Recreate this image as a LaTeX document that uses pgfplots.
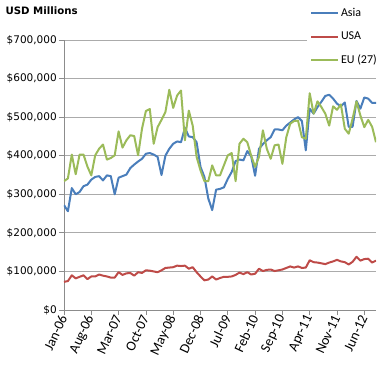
\documentclass[border=0pt]{standalone}
\usepackage{pgfplots}
\pgfplotsset{compat=1.18}
\usepackage{pgfplotstable}
\usepackage{fontspec}
\setmainfont{Carlito}
\newfontfamily\dejavu{DejaVu Sans}
\definecolor{asia}{HTML}{4A7EBB}
\definecolor{usa}{HTML}{BE4B48}
\definecolor{eu}{HTML}{9BBB59}
\definecolor{gridgray}{HTML}{ABABAB}
\definecolor{axisgray}{HTML}{8C8C8C}
\pgfplotstableread{
i asia usa eu
0 272 73 334
1 256 75 341
2 316 90 403
3 300 82 352
4 306 86 403
5 321 90 403
6 325 80 372
7 338 87 349
8 345 87 401
9 347 92 418
10 336 89 429
11 349 87 390
12 347 84 394
13 300 84 401
14 343 98 463
15 347 91 421
16 351 95 440
17 368 96 453
18 377 89 451
19 385 98 401
20 392 96 470
21 405 103 516
22 407 102 521
23 403 100 431
24 397 98 474
25 350 103 493
26 400 109 513
27 418 110 571
28 431 111 524
29 437 115 556
30 435 114 569
31 472 115 440
32 450 107 517
33 448 111 478
34 435 98 397
35 371 87 362
36 345 77 334
37 289 79 334
38 259 87 375
39 312 79 349
40 314 83 349
41 318 86 375
42 340 86 401
43 358 87 407
44 386 91 334
45 390 97 431
46 388 93 444
47 412 98 435
48 398 92 400
49 348 94 371
50 418 107 397
51 430 101 466
52 440 104 418
53 448 105 392
54 468 101 427
55 468 103 429
56 466 105 379
57 478 109 448
58 486 113 483
59 494 110 490
60 500 113 491
61 490 109 448
62 414 110 444
63 522 129 562
64 509 124 509
65 526 123 541
66 540 121 526
67 555 119 509
68 558 123 478
69 548 126 528
70 535 130 519
71 528 126 533
72 538 124 470
73 475 118 457
74 475 125 496
75 542 138 541
76 522 128 504
77 551 132 474
78 548 133 493
79 537 123 475
80 537 128 435
}\data
\begin{document}
\begin{tikzpicture}
\begin{axis}[
  width=312pt, height=270pt, scale only axis,
  xmin=0, xmax=80, ymin=0, ymax=700,
  axis lines*=left,
  axis line style={draw=axisgray, line width=0.8pt},
  xtick={0,7,...,77},
  xticklabels={Jan-06,Aug-06,Mar-07,Oct-07,May-08,Dec-08,Jul-09,Feb-10,Sep-10,Apr-11,Nov-11,Jun-12},
  ytick={0,100,...,700},
  yticklabels={{\$0},{\$100,000},{\$200,000},{\$300,000},{\$400,000},{\$500,000},{\$600,000},{\$700,000}},
  tick align=outside, major tick length=5pt,
  tick style={draw=axisgray, line width=0.8pt},
  ymajorgrids, grid style={draw=gridgray, line width=0.8pt},
  xticklabel style={font=\fontsize{14}{16}\selectfont, rotate=65, anchor=east, inner sep=1pt},
  yticklabel style={font=\dejavu\fontsize{10.5}{12}\selectfont, inner sep=2pt},
  legend style={at={(1.019,1.137)}, anchor=north east, draw=none, fill=white,
    font=\fontsize{12}{14}\selectfont, row sep=7.6pt,
    nodes={inner sep=2pt, text height=9pt, text depth=3pt}},
  legend cell align=left,
  legend image code/.code={\draw[#1] (0pt,0pt) -- (27pt,0pt);},
  every axis plot/.append style={line width=2pt, line join=round},
]
\addplot[asia] table[x=i, y=asia] {\data};
\addplot[usa] table[x=i, y=usa] {\data};
\addplot[eu] table[x=i, y=eu] {\data};
\legend{Asia, USA, EU (27)}
\end{axis}
\node[anchor=west, font=\dejavu\bfseries\fontsize{10.2}{12}\selectfont] at (-62pt,299pt) {USD Millions};
\pgfresetboundingbox
\useasboundingbox (-64pt,-70pt) rectangle (318pt,310pt);
\end{tikzpicture}
\end{document}
